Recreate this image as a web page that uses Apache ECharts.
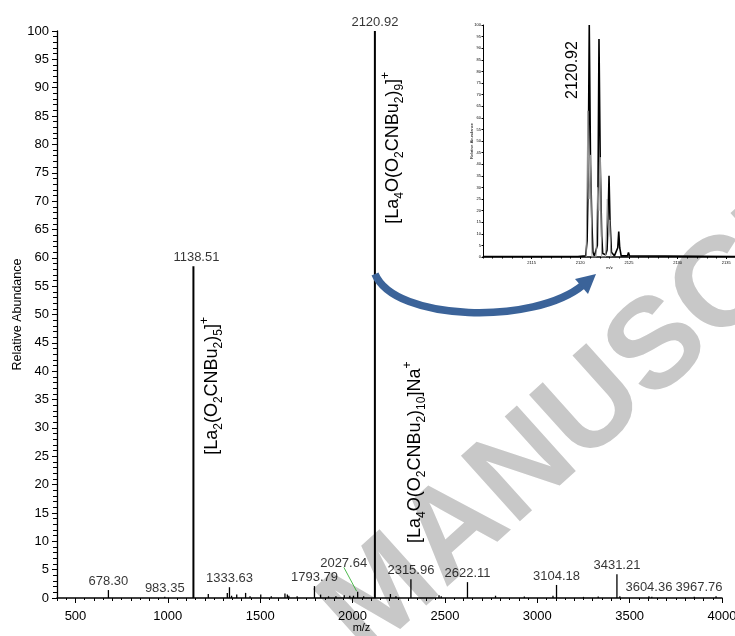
<!DOCTYPE html>
<html><head><meta charset="utf-8">
<script src="https://cdn.jsdelivr.net/npm/echarts@6/dist/echarts.min.js"></script>
<style>html,body{margin:0;padding:0;background:#fff}#c{width:735px;height:636px}</style>
</head><body><div id="c"></div>
<script>
// ---- main spectrum: labelled peaks ----
const labeledMz = [678.30, 983.35, 1138.51, 1333.63, 1793.79, 2027.64, 2120.92, 2315.96, 2622.11, 3104.18, 3431.21, 3604.36, 3967.76];
const labeledAb = [1.4, 0.2, 58.5, 1.9, 2.1, 1.1, 100, 3.3, 2.8, 2.3, 4.2, 0.3, 0.3];
// ---- main spectrum: small unlabelled peaks ----
const noiseMz = [1219, 1322, 1345, 1373, 1421, 1445, 1503, 1560, 1634, 1647, 1655, 1700, 1827, 1870, 1910, 1955, 1985, 2005, 2060, 2205, 2235, 2468, 2480, 2774, 2930, 3085, 3250, 3330, 3447, 3620, 3850];
const noiseAb = [0.7, 0.9, 0.4, 0.6, 0.9, 0.3, 0.6, 0.3, 0.8, 0.6, 0.4, 0.3, 0.6, 0.3, 0.3, 0.5, 0.4, 0.4, 0.3, 0.7, 0.3, 0.5, 0.3, 0.4, 0.25, 0.4, 0.2, 0.25, 0.3, 0.2, 0.2];
// ---- axis ticks ----
const mainXTicks = [500, 1000, 1500, 2000, 2500, 3000, 3500, 4000];
const insetXTicks = [2115, 2120, 2125, 2130, 2135];
// ---- inset (isotope pattern) ----
const insetBlackMz = [2110, 2119.75, 2119.85, 2119.95, 2120.55, 2120.7, 2120.8, 2120.92, 2121.05, 2121.2, 2121.3, 2121.45, 2121.6, 2121.75, 2121.82, 2121.92, 2122.05, 2122.2, 2122.3, 2122.6, 2122.75, 2122.85, 2122.95, 2123.05, 2123.2, 2123.5, 2123.85, 2123.95, 2124.05, 2124.2, 2124.85, 2124.95, 2125.05, 2125.2, 2136];
const insetBlackAb = [0.2, 0.2, 1, 0.2, 0.5, 7, 30, 100, 40, 13, 2, 0.5, 1, 5, 30, 94, 40, 9, 1.5, 1, 3, 15, 35, 16, 2, 0.5, 4, 11, 4, 0.5, 0.5, 2, 0.5, 0.2, 0.2];
const insetGrayMz = [2120.6, 2120.78, 2120.9, 2121.05, 2121.2, 2121.62, 2121.78, 2121.9, 2122.05, 2122.2, 2122.6, 2122.78, 2122.9, 2123.02, 2123.15];
const insetGrayAb = [0, 63, 25, 44, 0, 0, 30, 20, 43, 0, 0, 25, 10, 16, 0];
// ---- text annotations (anchored in data space) ----
const annotations = [
  {text: '[La{s|2}(O{s|2}CNBu{s|2}){s|5}]{p|+}', grid: 0, mz: 1239, ab: 37.4},
  {text: '[La{s|4}O(O{s|2}CNBu{s|2}){s|9}]{p|+}', grid: 0, mz: 2218, ab: 79.4},
  {text: '[La{s|4}O(O{s|2}CNBu{s|2}){s|10}]Na{p|+}', grid: 0, mz: 2336, ab: 25.7}
];
const insetLabel = {text: '2120.92', mz: 2119.23, ab: 80.6};

const FONT = '"Liberation Sans", Arial, Helvetica, sans-serif';
const labelOffsets = {'2027.64': [-14, -20], '3967.76': [-17, 0], '1138.51': [3, 0]};

const chart = echarts.init(document.getElementById('c'), null, {renderer: 'canvas'});

const stickData = [];
labeledMz.forEach((m, i) => stickData.push([m, labeledAb[i]]));
noiseMz.forEach((m, i) => stickData.push([m, noiseAb[i]]));

const labelData = labeledMz.map((m, i) => ({
  value: [m, labeledAb[i]],
  label: {offset: labelOffsets[m.toFixed(2)] || [0, 0]}
}));

const zip = (a, b) => a.map((v, i) => [v, b[i]]);
const plain = v => String(v);

const option = {
  animation: false,
  backgroundColor: '#fff',
  grid: [
    {left: 57, right: 13, top: 31, bottom: 38, outerBoundsMode: 'none', containLabel: false},
    {left: 483, top: 25, width: 253, height: 232, outerBoundsMode: 'none', containLabel: false}
  ],
  xAxis: [
    {type: 'value', gridIndex: 0, min: 400, max: 4000, position: 'bottom',
     name: 'm/z', nameLocation: 'middle', nameGap: 24, nameMoveOverlap: false,
     nameTextStyle: {fontFamily: FONT, fontSize: 11, color: '#000', padding: [0, 56, 0, 0]},
     axisLine: {lineStyle: {color: '#000', width: 1.5}},
     axisTick: {show: true, customValues: mainXTicks, length: 5, lineStyle: {color: '#000'}},
     axisLabel: {customValues: mainXTicks, formatter: plain, fontFamily: FONT, fontSize: 13, color: '#000', margin: 12},
     splitLine: {show: false}},
    {type: 'value', gridIndex: 0, min: 400, max: 4000, interval: 100, position: 'bottom',
     axisLine: {show: false},
     axisTick: {show: true, length: 3, lineStyle: {color: '#000'}},
     minorTick: {show: true, splitNumber: 2, length: 2, lineStyle: {color: '#000'}},
     axisLabel: {show: false}, splitLine: {show: false}},
    {type: 'value', gridIndex: 1, min: 2110, max: 2136, position: 'bottom',
     name: 'm/z', nameLocation: 'middle', nameGap: 9, nameMoveOverlap: false,
     nameTextStyle: {fontFamily: FONT, fontSize: 4, color: '#000'},
     axisLine: {lineStyle: {color: '#000', width: 1.5}},
     axisTick: {show: true, customValues: insetXTicks, length: 2, lineStyle: {color: '#000'}},
     axisLabel: {customValues: insetXTicks, formatter: plain, fontFamily: FONT, fontSize: 4, color: '#000', margin: 4},
     splitLine: {show: false}},
    {type: 'value', gridIndex: 1, min: 2110, max: 2136, interval: 1, position: 'bottom',
     axisLine: {show: false},
     axisTick: {show: true, length: 1.5, lineStyle: {color: '#000'}},
     axisLabel: {show: false}, splitLine: {show: false}}
  ],
  yAxis: [
    {type: 'value', gridIndex: 0, min: 0, max: 100, interval: 5,
     name: 'Relative Abundance', nameLocation: 'middle', nameGap: 33, nameMoveOverlap: false,
     nameTextStyle: {fontFamily: FONT, fontSize: 12.5, color: '#000'},
     axisLine: {show: true, lineStyle: {color: '#000', width: 1.3}},
     axisTick: {show: true, length: 5, lineStyle: {color: '#000'}},
     minorTick: {show: true, splitNumber: 5, length: 4, lineStyle: {color: '#000'}},
     axisLabel: {fontFamily: FONT, fontSize: 13, color: '#000', margin: 8},
     splitLine: {show: false}},
    {type: 'value', gridIndex: 1, min: 0, max: 100, interval: 5,
     name: 'Relative Abundance', nameLocation: 'middle', nameGap: 9, nameMoveOverlap: false,
     nameTextStyle: {fontFamily: FONT, fontSize: 4, color: '#000'},
     axisLine: {show: true, lineStyle: {color: '#000', width: 1}},
     axisTick: {show: true, length: 1.5, lineStyle: {color: '#000'}},
     axisLabel: {fontFamily: FONT, fontSize: 4, color: '#000', margin: 2},
     splitLine: {show: false}}
  ],
  series: [
    {type: 'custom', xAxisIndex: 0, yAxisIndex: 0, data: stickData, encode: {x: 0, y: 1},
     z: 5,
     renderItem: function (params, api) {
       const m = api.value(0), a = api.value(1);
       const p0 = api.coord([m, 0]), p1 = api.coord([m, a]);
       return {type: 'line', shape: {x1: p0[0], y1: p0[1], x2: p1[0], y2: p1[1]},
               style: {stroke: '#000', lineWidth: a > 10 ? 2 : 1.3}};
     }},
    {type: 'scatter', xAxisIndex: 0, yAxisIndex: 0, data: labelData, symbolSize: 0,
     z: 6, silent: true,
     label: {show: true, position: 'top', distance: 2, color: '#000', fontFamily: FONT, fontSize: 13,
             formatter: p => p.value[0].toFixed(2)},
     markLine: {silent: true, symbol: 'none', label: {show: false},
       lineStyle: {color: '#22aa22', width: 0.8, type: 'solid'},
       data: [[{coord: [1953, 5.4]}, {coord: [2022, 1.2]}]]}},
    {type: 'line', xAxisIndex: 2, yAxisIndex: 1, data: zip(insetBlackMz, insetBlackAb),
     showSymbol: false, z: 5, lineStyle: {color: '#000', width: 1.6}},
    {type: 'line', xAxisIndex: 2, yAxisIndex: 1, data: zip(insetGrayMz, insetGrayAb),
     showSymbol: false, z: 6, lineStyle: {color: '#9a9a9a', width: 1}}
  ]
};
chart.setOption(option);

// ---- decorations: watermark, annotations, arrow ----
const rich = {
  s: {fontFamily: FONT, fontSize: 12, lineHeight: 13, verticalAlign: 'bottom', fill: '#000'},
  p: {fontFamily: FONT, fontSize: 12, lineHeight: 13, verticalAlign: 'top', fill: '#000'}
};
const graphics = [];
graphics.push({
  type: 'text', x: 342, y: 634, rotation: 42 * Math.PI / 180, z: -100, silent: true,
  style: {text: 'MANUSCRIPT', fontFamily: FONT, fontSize: 128, fontWeight: 'bold', fill: '#c8c8c8',
          align: 'left', verticalAlign: 'middle'}
});
annotations.forEach(a => {
  const p = chart.convertToPixel({gridIndex: a.grid}, [a.mz, a.ab]);
  graphics.push({
    type: 'text', x: p[0], y: p[1], rotation: Math.PI / 2, z: 100, silent: true,
    style: {text: a.text, fontFamily: FONT, fontSize: 18, lineHeight: 26, fill: '#000',
            align: 'center', verticalAlign: 'middle', rich: rich}
  });
});
{
  const p = chart.convertToPixel({gridIndex: 1}, [insetLabel.mz, insetLabel.ab]);
  graphics.push({
    type: 'text', x: p[0], y: p[1], rotation: Math.PI / 2, z: 100, silent: true,
    style: {text: insetLabel.text, fontFamily: FONT, fontSize: 16, fill: '#000',
            align: 'center', verticalAlign: 'middle'}
  });
}
const arrowColor = '#3b6399';
graphics.push({
  type: 'bezierCurve', z: 100, silent: true,
  shape: {x1: 375, y1: 274, cpx1: 395, cpy1: 322, cpx2: 535, cpy2: 325, x2: 583, y2: 285},
  style: {stroke: arrowColor, lineWidth: 7.5, fill: null}
});
graphics.push({
  type: 'polygon', z: 100, silent: true,
  shape: {points: [[596, 274], [588, 294], [575, 279]]},
  style: {fill: arrowColor}
});
chart.setOption({graphic: {elements: graphics}});
</script>
</body></html>
